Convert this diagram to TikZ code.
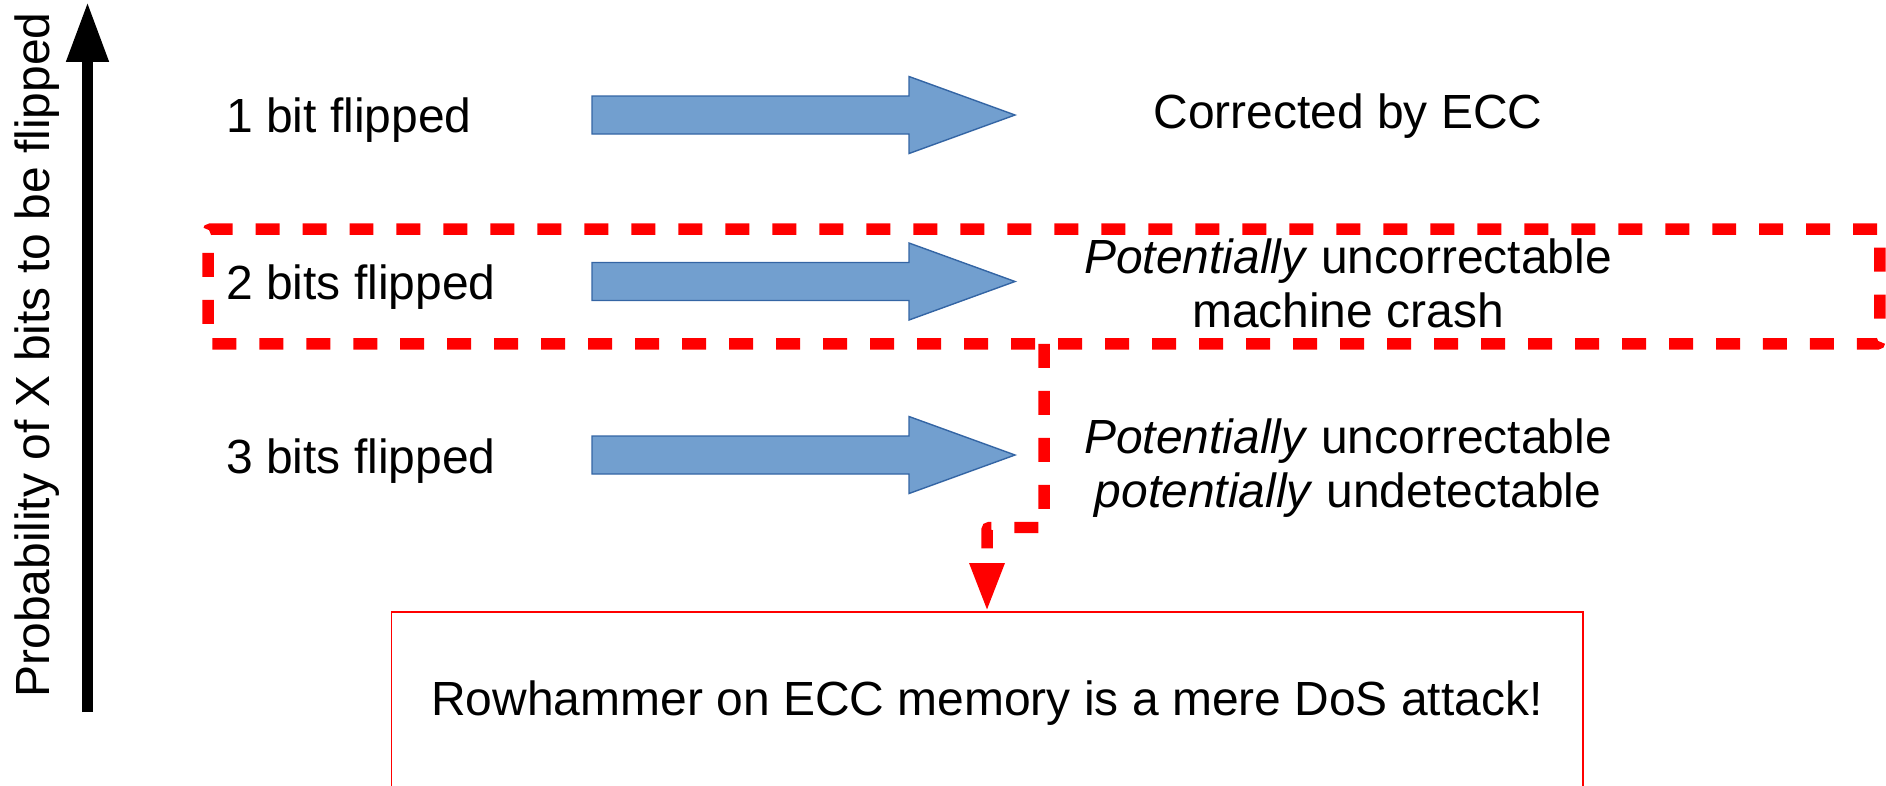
\documentclass[tikz,border=0pt]{standalone}
\usepackage{fontspec}
\setmainfont{Liberation Sans}
\usepackage{xcolor}
\definecolor{arrowblue}{HTML}{729FCF}
\definecolor{arrowedge}{HTML}{3465A4}
\definecolor{alertred}{HTML}{FF0000}
\usetikzlibrary{arrows.meta,positioning}
\tikzset{
  flipfont/.style={font=\fontsize{27.3pt}{30.7pt}\selectfont},
  leftlabel/.style={flipfont, anchor=base west, inner sep=0pt},
  outcome/.style={flipfont, anchor=base, align=center, inner sep=0pt},
  fatarrow/.style={fill=arrowblue, draw=arrowedge, line width=0.8pt, line join=miter},
  critbox/.style={draw=alertred, line width=0.23cm, dash pattern=on 0.48cm off 0.46cm,
    rounded corners=1.5pt, minimum width=33.44cm, minimum height=2.3cm, inner sep=0pt, outer sep=0pt},
  critlink/.style={draw=alertred, line width=0.23cm, dash pattern=on 0.48cm off 0.46cm,
    rounded corners=1.5pt, -{Triangle[length=0.98cm,width=0.64cm]}},
  verdict/.style={draw=alertred, line width=0.7pt, flipfont, minimum width=23.84cm,
    minimum height=3.66cm, inner sep=0pt, outer sep=0pt},
}

\begin{document}
\begin{tikzpicture}[x=0.02cm,y=-0.02cm]
  \useasboundingbox (0,0) rectangle (1886,785);
  \clip (0,0) rectangle (1886,785);

  % probability axis
  \coordinate (axbot) at (87.5,712);
  \coordinate (axtop) at (87.5,2);
  \draw[line width=0.22cm, -{Triangle[length=1.2cm,width=0.8cm]}] (axbot) -- (axtop);
  \node[flipfont, rotate=90, anchor=base, inner sep=0pt] (axislabel) at (50,355)
    {Probability of X bits to be flipped};

  % rows
  \node[leftlabel] (one) at (226,132) {1 bit flipped};
  \node[leftlabel] (two) at (226,299) {2 bits flipped};
  \node[leftlabel] (three) at (226,473) {3 bits flipped};

  \foreach \yy in {115,281.5,455}
    \draw[fatarrow] (592,\yy-19) -- (909,\yy-19) -- (909,\yy-38.5) -- (1015,\yy)
      -- (909,\yy+38.5) -- (909,\yy+19) -- (592,\yy+19) -- cycle;

  % base of a two-line node = its last line
  \node[outcome] (ecc) at (1348,128) {Corrected by ECC};
  \node[outcome] (crash) at (1348,327) {\textit{Potentially} uncorrectable\\machine crash};
  \node[outcome] (undet) at (1348,507) {\textit{Potentially} uncorrectable\\\textit{potentially} undetectable};

  % critical case and conclusion
  \node[critbox] (crit) at (1044,286.5) {};
  \node[verdict] (dos) at (987,703.5) {Rowhammer on ECC memory is a mere DoS attack!};
  \draw[critlink] (crit.south) -- ++(0,183.5) -| (dos.north);
\end{tikzpicture}
\end{document}
